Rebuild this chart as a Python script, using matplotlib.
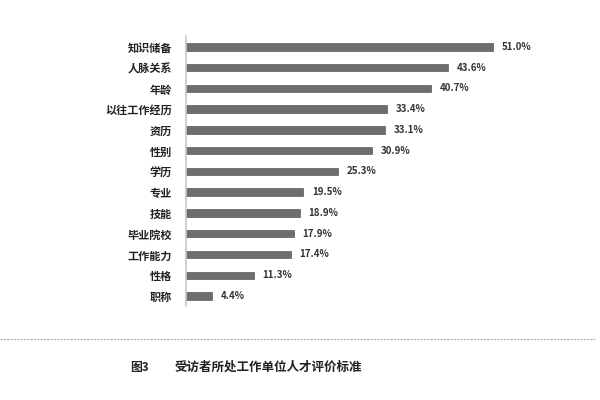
import matplotlib
matplotlib.use('Agg')
import matplotlib.pyplot as plt
from matplotlib.lines import Line2D

plt.rcParams['font.family'] = ['Noto Sans CJK SC', 'DejaVu Sans']

# 评价标准及比例 (%)
criteria = ['知识储备', '人脉关系', '年龄', '以往工作经历', '资历', '性别', '学历',
            '专业', '技能', '毕业院校', '工作能力', '性格', '职称']
shares = [51.0, 43.6, 40.7, 33.4, 33.1, 30.9, 25.3, 19.5, 18.9, 17.9, 17.4, 11.3, 4.4]

fig = plt.figure(figsize=(6, 4), dpi=100)
ax = fig.add_axes([0.31, 0.234, 0.622, 0.675])

pos = list(range(len(criteria)))
ax.barh(pos, shares, height=0.36, color='#6e6e6e', edgecolor='#5a5a5a', linewidth=0.5)
for p, v in zip(pos, shares):
    ax.text(v + 1.4, p, f'{v:.1f}%', va='center', ha='left', fontsize=7,
            color='#333333', fontweight='bold')

ax.set_yticks(pos)
ax.set_yticklabels(criteria, fontsize=8, color='#222222', fontweight='bold')
ax.set_ylim(len(criteria) - 0.5, -0.5)
ax.set_xlim(0, 62)
ax.set_xticks([])
ax.tick_params(axis='y', length=0, pad=10)
for s in ['top', 'right', 'bottom']:
    ax.spines[s].set_visible(False)
ax.spines['left'].set_color('#c8c8c8')
ax.spines['left'].set_linewidth(1.2)

fig.add_artist(Line2D([0.0, 0.992], [1 - 339 / 400] * 2, transform=fig.transFigure,
                      color='#b0b0b0', linewidth=0.8, linestyle=(0, (2, 1))))
fig.text(130 / 600, 1 - 367 / 400, '图3', fontsize=8.5, va='center', ha='left',
         color='#222222', fontweight='bold')
fig.text(175 / 600, 1 - 367 / 400, '受访者所处工作单位人才评价标准', fontsize=9,
         va='center', ha='left', color='#222222', fontweight='bold')

fig.savefig('out.png', dpi=100)
